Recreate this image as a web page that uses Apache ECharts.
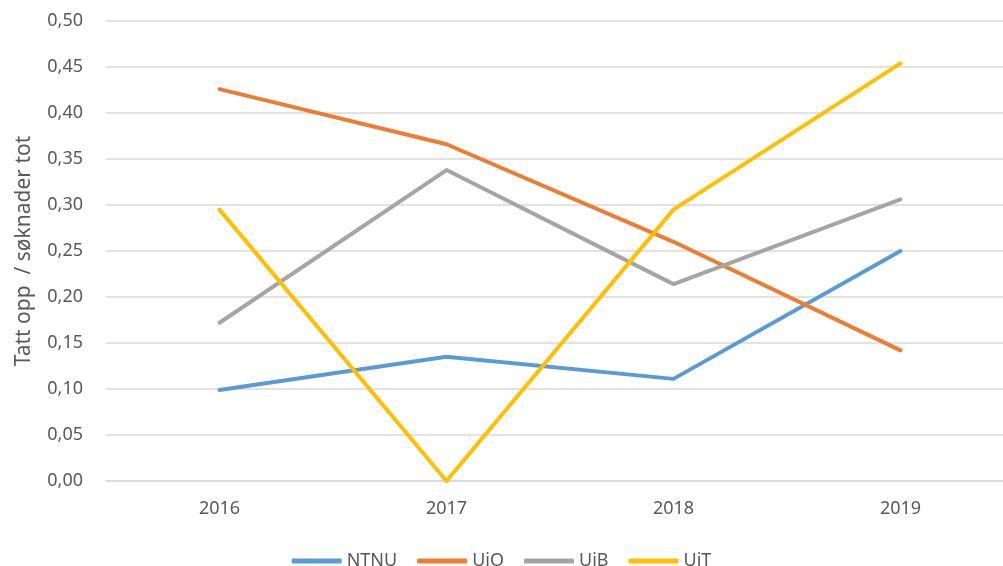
<!DOCTYPE html>
<html>
<head>
<meta charset="utf-8">
<script src="https://cdn.jsdelivr.net/npm/echarts@6/dist/echarts.min.js"></script>
<style>
	html, body { margin: 0; padding: 0; background: #fff; }
	#chart { width: 1003px; height: 566px; }
</style>
</head>
<body>
<div id="chart"></div>
<script>
var years = ['2016', '2017', '2018', '2019'];
var ntnu = [0.099, 0.135, 0.111, 0.250];
var uio = [0.426, 0.366, 0.260, 0.142];
var uib = [0.172, 0.338, 0.214, 0.306];
var uit = [0.295, 0.000, 0.295, 0.454];

var chart = echarts.init(document.getElementById('chart'));
var txt = '#595959';
var font = 'Noto Sans';

function line(name, data, color) {
	return {
		name: name,
		type: 'line',
		data: data,
		symbol: 'none',
		lineStyle: { width: 4, color: color, cap: 'round', join: 'round' },
		itemStyle: { color: color }
	};
}

var option = {
	animation: false,
	grid: { left: 106, top: 21, right: -11, height: 460, outerBoundsMode: 'none', containLabel: false },
	legend: {
		top: 547,
		left: 'center',
		icon: 'roundRect',
		itemWidth: 50,
		itemHeight: 5,
		itemGap: 20,
		textStyle: { color: txt, fontSize: 18, fontFamily: font },
		data: ['NTNU', 'UiO', 'UiB', 'UiT']
	},
	xAxis: {
		type: 'category',
		data: years,
		boundaryGap: true,
		axisLine: { lineStyle: { color: '#d9d9d9', width: 1.5 } },
		axisTick: { show: false },
		axisLabel: { color: txt, fontSize: 18, fontFamily: font, margin: 19 }
	},
	yAxis: {
		type: 'value',
		min: 0,
		max: 0.5,
		interval: 0.05,
		name: 'Tatt opp  / søknader tot',
		nameLocation: 'middle',
		nameGap: 71,
		nameTextStyle: { color: txt, fontSize: 21, fontFamily: font },
		axisLine: { show: false },
		axisTick: { show: false },
		splitLine: { lineStyle: { color: '#d9d9d9', width: 1.5 } },
		axisLabel: {
			color: txt, fontSize: 18, fontFamily: font, margin: 23,
			formatter: function (v) { return v.toFixed(2).replace('.', ','); }
		}
	},
	series: [
		line('NTNU', ntnu, '#5B9BD5'),
		line('UiO', uio, '#ED7D31'),
		line('UiB', uib, '#A5A5A5'),
		line('UiT', uit, '#FFC000')
	]
};

chart.setOption(option);
</script>
</body>
</html>
